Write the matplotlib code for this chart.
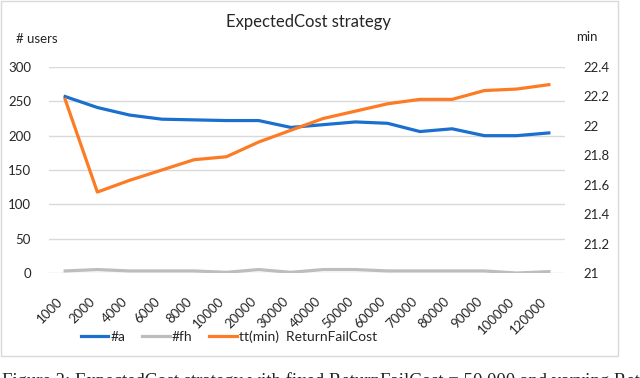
import matplotlib
matplotlib.use("Agg")
import matplotlib.pyplot as plt
import matplotlib.transforms as mtransforms
from matplotlib.patches import Rectangle

# chart data
categories = ["1000", "2000", "4000", "6000", "8000", "10000", "20000", "30000",
              "40000", "50000", "60000", "70000", "80000", "90000", "100000", "120000"]
users_a = [257, 241, 230, 224, 223, 222, 222, 212,
           216, 220, 218, 206, 210, 200, 200, 204]
users_fh = [3, 5, 3, 3, 3, 1, 5, 1,
            5, 5, 3, 3, 3, 3, 0, 2]
tt_min = [22.18, 21.55, 21.63, 21.70, 21.77, 21.79, 21.89, 21.97,
          22.05, 22.10, 22.15, 22.18, 22.18, 22.24, 22.25, 22.28]
left_ticks = [0, 50, 100, 150, 200, 250, 300]
right_ticks = [21, 21.2, 21.4, 21.6, 21.8, 22, 22.2, 22.4]

BLUE = "#1b6fcf"
GRAY = "#bdbdbd"
ORANGE = "#fd7b24"
GRID = "#d9d9d9"
TEXT = "#262626"

plt.rcParams["font.family"] = ["Lato", "DejaVu Sans"]

W, H = 640, 378
fig = plt.figure(figsize=(W / 100, H / 100), dpi=100)

# light frame around the chart area
fig.patches.append(Rectangle((1 / W, 1 - 356 / H), 617 / W, 355 / H,
                             transform=fig.transFigure, fill=False,
                             edgecolor="#d9d9d9", linewidth=1))

ax = fig.add_axes([49 / W, 1 - 273 / H, 516 / W, 206 / H])
ax2 = ax.twinx()

x = list(range(len(categories)))
ax.plot(x, users_a, color=BLUE, linewidth=2.3, label="#a", zorder=3)
ax.plot(x, users_fh, color=GRAY, linewidth=2.3, label="#fh", zorder=3)
ax2.plot(x, tt_min, color=ORANGE, linewidth=2.3, label="tt(min)  ReturnFailCost")

ax.set_xlim(-0.5, len(categories) - 0.5)
ax.set_ylim(0, 300)
ax2.set_ylim(21, 22.4)
ax.set_yticks(left_ticks)
ax2.set_yticks(right_ticks)
ax2.set_yticklabels([f"{v:g}" for v in right_ticks])
ax.grid(axis="y", color=GRID, linewidth=1)
ax.set_axisbelow(True)

for a in (ax, ax2):
    for s in a.spines.values():
        s.set_visible(False)
    a.tick_params(length=0, labelsize=9.5, colors=TEXT)
ax.tick_params(axis="y", pad=13)
ax2.tick_params(axis="y", pad=13)

ax.set_xticks(x)
ax.set_xticklabels(categories, rotation=45, ha="right", va="top")
shift = mtransforms.ScaledTranslation(8 / 100, 0, fig.dpi_scale_trans)
for lbl in ax.get_xticklabels():
    lbl.set_transform(lbl.get_transform() + shift)
ax.tick_params(axis="x", pad=16)

fig.text(309 / W, 1 - 22 / H, "ExpectedCost strategy", ha="center", va="center",
         fontsize=12, color=TEXT)
fig.text(16 / W, 1 - 39 / H, "# users", ha="left", va="center",
         fontsize=9.5, color=TEXT)
fig.text(576 / W, 1 - 37 / H, "min", ha="left", va="center",
         fontsize=9.5, color=TEXT)

h1, l1 = ax.get_legend_handles_labels()
h2, l2 = ax2.get_legend_handles_labels()
fig.legend(h1 + h2, l1 + l2, loc="center left",
           bbox_to_anchor=(68 / W, 1 - 337 / H), ncol=3, frameon=False,
           fontsize=10, handlelength=2.0, handletextpad=0.15,
           columnspacing=1.2, labelcolor=TEXT)

# figure caption, cut off by the bottom edge in the source image
fig.text(2 / W, 1 - 372 / H,
         "Figure 3: ExpectedCost strategy with fixed ReturnFailCost = 50,000 and varying Ret",
         ha="left", va="top", fontsize=13.5, family="Liberation Serif", color="#222222")

fig.savefig("out.png", dpi=100)
